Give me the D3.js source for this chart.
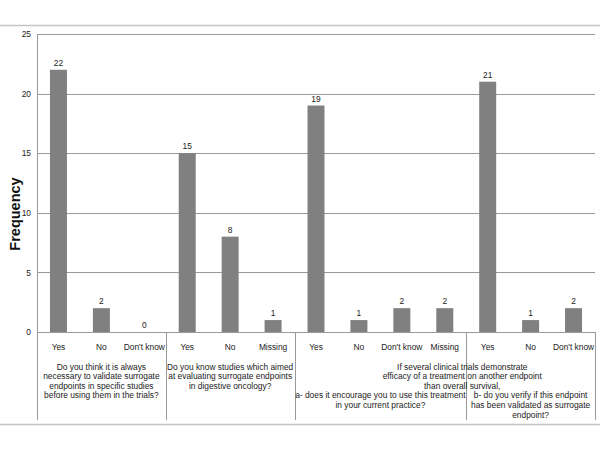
<!DOCTYPE html>
<html>
<head>
<meta charset="utf-8">
<script src="https://cdn.jsdelivr.net/npm/d3@7"></script>
<style>
	body { margin: 0; background: #fff; }
	svg { font-family: "Liberation Sans", Arial, sans-serif; }
</style>
</head>
<body>
<div id="chart"></div>
<script>
// categories, grouped by question
const categories = ["Yes", "No", "Don't know", "Yes", "No", "Missing", "Yes", "No", "Don't know", "Missing", "Yes", "No", "Don't know"];
const values = [22, 2, 0, 15, 8, 1, 19, 1, 2, 2, 21, 1, 2];
const yTicks = [0, 5, 10, 15, 20, 25];
// index of the first category of each group
const groupStarts = [0, 3, 6, 10];
const questionA = ["Do you think it is always", "necessary to validate surrogate", "endpoints in specific studies", "before using them in the trials?"];
const questionB = ["Do you know studies which aimed", "at evaluating surrogate endpoints", "in digestive oncology?"];
const questionC = ["If several clinical trials demonstrate", "efficacy of a treatment on another endpoint", "than overall survival,"];
const questionCa = ["a- does it encourage you to use this treatment", "in your current practice?"];
const questionCb = ["b- do you verify if this endpoint", "has been validated as surrogate", "endpoint?"];

const W = 600, H = 450;
const margin = { top: 34, left: 37, right: 5 };
const plotW = W - margin.left - margin.right;
const plotH = 298;
const fs = 8.4, lh = 9.6;

const svg = d3.select("#chart").append("svg")
	.attr("width", W)
	.attr("height", H);

// outer frame lines
svg.append("line").attr("x1", 0).attr("x2", W).attr("y1", 25.5).attr("y2", 25.5)
	.attr("stroke", "#c4c4c4").attr("stroke-width", 1.6);
svg.append("line").attr("x1", 0).attr("x2", W).attr("y1", 424.5).attr("y2", 424.5)
	.attr("stroke", "#c4c4c4").attr("stroke-width", 1.6);

const g = svg.append("g").attr("transform", `translate(${margin.left},${margin.top})`);

const x = d3.scaleBand().domain(d3.range(categories.length)).range([0, plotW]);
const y = d3.scaleLinear().domain([0, 25]).range([plotH, 0]);
const cx = i => x(i) + x.bandwidth() / 2;
const barW = 17;

// gridlines
g.append("g").selectAll("line").data(yTicks).enter().append("line")
	.attr("x1", 0).attr("x2", plotW)
	.attr("y1", d => Math.round(y(d)) + 0.5).attr("y2", d => Math.round(y(d)) + 0.5)
	.attr("stroke", "#9a9a9a").attr("stroke-width", 1);

// y axis
const yAxis = d3.axisLeft(y).tickValues(yTicks).tickSize(0).tickPadding(6);
const ya = g.append("g").call(yAxis);
ya.select(".domain").remove();
ya.selectAll("text").attr("font-size", fs).attr("fill", "#222").attr("font-family", "Liberation Sans, Arial, sans-serif");

// left axis line and group separators, running down into the label area
const sepX = groupStarts.map(i => x(i)).concat([plotW]);
g.append("g").selectAll("line").data(sepX).enter().append("line")
	.attr("x1", d => Math.round(d) + 0.5).attr("x2", d => Math.round(d) + 0.5)
	.attr("y1", (d, i) => i === 0 ? 0 : plotH)
	.attr("y2", plotH + 88)
	.attr("stroke", "#9a9a9a").attr("stroke-width", 1);

// bars
g.append("g").selectAll("rect").data(values).enter().append("rect")
	.attr("x", (d, i) => cx(i) - barW / 2)
	.attr("y", d => y(d))
	.attr("width", barW)
	.attr("height", d => y(0) - y(d))
	.attr("fill", "#808080");

// value labels
g.append("g").selectAll("text").data(values).enter().append("text")
	.attr("x", (d, i) => cx(i))
	.attr("y", d => y(d) - 4)
	.attr("text-anchor", "middle")
	.attr("font-size", fs)
	.attr("fill", "#222")
	.text(d => d);

// category labels
g.append("g").selectAll("text").data(categories).enter().append("text")
	.attr("x", (d, i) => cx(i))
	.attr("y", plotH + 18)
	.attr("text-anchor", "middle")
	.attr("font-size", fs)
	.attr("fill", "#222")
	.text(d => d);

// question labels
function block(lines, px, y0) {
	g.append("g").selectAll("text").data(lines).enter().append("text")
		.attr("x", px)
		.attr("y", (d, i) => y0 + i * lh)
		.attr("text-anchor", "middle")
		.attr("font-size", fs)
		.attr("fill", "#222")
		.text(d => d);
}
const q0 = plotH + 37.5;
block(questionA, (sepX[0] + sepX[1]) / 2, q0);
block(questionB, (sepX[1] + sepX[2]) / 2, q0);
block(questionC, sepX[3] - 4, q0);
block(questionCa, (sepX[2] + sepX[3]) / 2, q0 + 3 * lh);
block(questionCb, (sepX[3] + sepX[4]) / 2, q0 + 3 * lh);

// y axis title
svg.append("text")
	.attr("transform", `translate(20,214) rotate(-90)`)
	.attr("text-anchor", "middle")
	.attr("font-size", 14.5)
	.attr("font-weight", "bold")
	.attr("fill", "#111")
	.text("Frequency");
</script>
</body>
</html>
